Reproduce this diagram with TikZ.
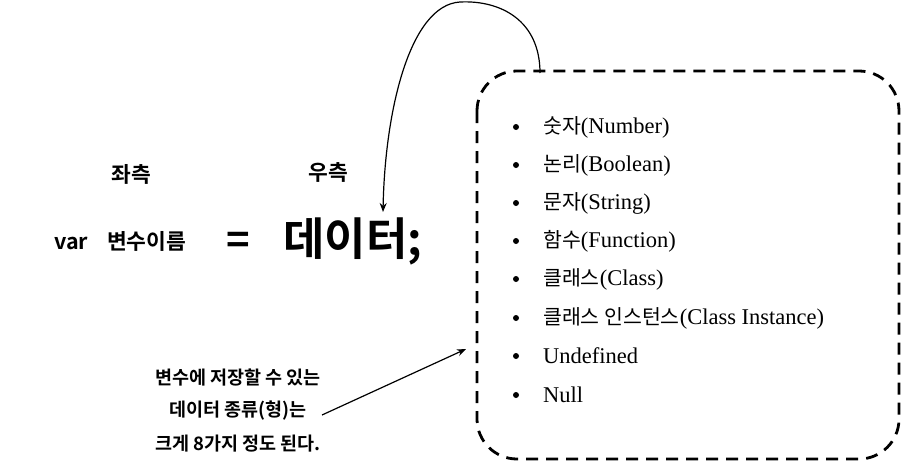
\documentclass[tikz,border=0pt]{standalone}
\usepackage{fontspec}
\usetikzlibrary{arrows.meta}
\setmainfont{Liberation Serif}
\newfontfamily\cjk{Noto Sans CJK KR}
\newfontfamily\cjkb{Noto Sans CJK KR Bold}
\newcommand\kr[1]{{\cjk\fontsize{20.5}{22}\selectfont #1}}
\begin{document}
\begin{tikzpicture}[x=1pt,y=-1pt,
  lbl/.style={font=\cjkb\fontsize{21.5}{24}\selectfont, inner sep=0pt},
  item/.style={anchor=west, font=\fontsize{22.5}{24}\selectfont, inner sep=0pt},
  dot/.style={circle, fill, inner sep=0pt, minimum size=6pt},
  note/.style={font=\cjkb\fontsize{18.5}{20}\selectfont, inner sep=0pt},
  arr/.style={-{Stealth[length=9pt,width=7pt]}, line width=1.2pt}]
\useasboundingbox (0,0) rectangle (902,466);
\node[lbl] (left) at (131,174) {좌측};
\node[lbl] (right) at (328,172) {우측};
\node[lbl, anchor=west] (var) at (54,243) {var};
\node[lbl, anchor=west] (name) at (107,241) {변수이름};
\node[font=\cjkb\fontsize{40}{42}\selectfont, inner sep=0pt] (eq) at (238,243) {=};
\node[font=\cjkb\fontsize{45}{48}\selectfont, inner sep=0pt, anchor=west] (data) at (283,241) {데이터;};
\draw[line width=2.8pt, dash pattern=on 12pt off 8pt, rounded corners=40pt] (477,71) rectangle (899,459);
\coordinate (top) at (540,73);
\coordinate (boxl) at (466,349);
\foreach \y/\t [count=\i] in {127/{\kr{숫자}(Number)}, 165/{\kr{논리}(Boolean)}, 203/{\kr{문자}(String)}, 241/{\kr{함수}(Function)}, 279/{\kr{클래스}(Class)}, 318/{\kr{클래스 인스턴스}(Class Instance)}, 356/{Undefined}, 395/{Null}} {
  \node[dot] (d\i) at (516,\y) {};
  \node[item] (t\i) at (543,\y) {\t};
}
\node[note] (n1) at (238,378) {변수에 저장할 수 있는};
\node[note] (n2) at (238,411) {데이터 종류(형)는};
\node[note] (n3) at (238,444) {크게 8가지 정도 된다.};
\coordinate (ns) at (322,415);
\draw[arr] (ns) -- (boxl);
\draw[arr] (top) .. controls (540,20) and (500,0) .. (460,2) .. controls (410,5) and (385,110) .. (383,212);
\end{tikzpicture}
\end{document}
